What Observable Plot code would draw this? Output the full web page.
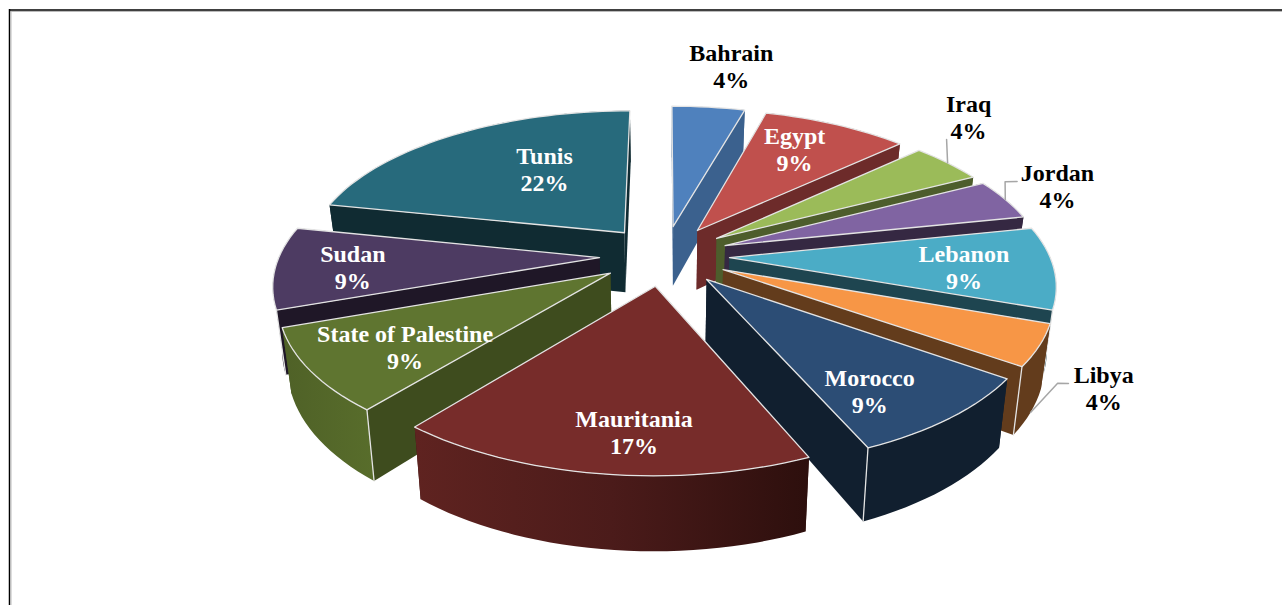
<!DOCTYPE html>
<html><head><meta charset="utf-8">
<script src="https://cdn.jsdelivr.net/npm/d3@7"></script>
<script src="https://cdn.jsdelivr.net/npm/@observablehq/plot@0.6"></script>
<style>html,body{margin:0;padding:0;background:#fff;overflow:hidden}svg{display:block}</style>
</head><body><div id="chart"></div>
<script>
const countries = ["Bahrain","Egypt","Iraq","Jordan","Lebanon","Libya","Morocco","Mauritania","State of Palestine","Sudan","Tunis"];
const counts    = [1,2,1,1,2,1,2,4,2,2,5];
const percents  = ["4%","9%","4%","4%","9%","4%","9%","17%","9%","9%","22%"];
const topColors  = ["#4f81bd","#c0504d","#9bbb59","#8064a2","#4bacc6","#f79646","#2c4d75","#772c2a","#5f7530","#4d3b62","#276a7c"];
const wallColors = ["#3b618e","#6d2b2a","#4d5d2c","#352842","#1e4550","#633c1c","#111f2f","#3a1513","#3e4c1e","#1f1727","#102b32"];
const labelColors = ["#000","#fff","#000","#000","#fff","#000","#fff","#fff","#fff","#fff","#fff"];
// label anchors on the pie's ground plane: distance and bearing from the centre
const labelRadius  = [503,292,490,450,298,466,318,328,300,308,238];
const labelBearing = [9.5,30,45.9,69.6,95.3,123.3,145.1,184.4,232.2,264.8,327];
// leader lines: slice index and elbow/end points in the same ground-plane terms
const leaderSlices = [2,3,5];
const leaderRadius = [[426],[406,418],[428,436]];
const leaderBearing = [[48.5],[65,65.7],[125,124.3]];

// view of the pie
const cx=664, cy=255, squash=.463, persp=.0005, R=320, explode=65, depth=61, taper=.976;
const labelPersp=.00045, labelCx=663;
const rad=Math.PI/180;
const project=(X,Y,z=0,k=persp,c=cx)=>{const s=1/(1+k*Y), t=1-(1-taper)*z/depth; return {x:c+X*s*t, y:cy-squash*Y*s+z*s};};
const polar=(r,a)=>[r*Math.sin(a*rad), r*Math.cos(a*rad)];

const total=d3.sum(counts);
let acc=0;
const slices=countries.map((name,i)=>{
  const a0=acc/total*360; acc+=counts[i]; const a1=acc/total*360; const mid=(a0+a1)/2;
  const [ox,oy]=polar(explode,mid);
  const rim=z=>{const n=Math.max(2,Math.ceil((a1-a0)/2)); return d3.range(n+1).map(j=>{const a=a0+(a1-a0)*j/n; const [X,Y]=polar(R,a); return project(ox+X,oy+Y,z);});};
  return {i,name,a0,a1,mid,ox,oy,rim};
});
const order=[...slices].sort((a,b)=>Math.cos(b.mid*rad)-Math.cos(a.mid*rad));
const closed=p=>[...p,p[0]];
const gradFill={7:"url(#gMau)",8:"url(#gPal)"};
const marks=[];
marks.push(()=>{
  const defs=d3.create("svg:defs");
  const add=(id,stops)=>{const g=defs.append("linearGradient").attr("id",id).attr("x1",0).attr("x2",1).attr("y1",0).attr("y2",0);
    stops.forEach(([o,c])=>g.append("stop").attr("offset",o).attr("stop-color",c));};
  add("gMau",[[0,"#5f2320"],[.5,"#4b1b1a"],[1,"#2d0f0d"]]);
  add("gPal",[[0,"#4f6127"],[1,"#586d2b"]]);
  return defs.node();
});
for(const s of order){
  const c0=s.rim(0), c1=s.rim(depth);
  const apexT=project(s.ox,s.oy,0), apexB=project(s.ox,s.oy,depth);
  const rimWall=closed([...c0,...[...c1].reverse()]);
  const wallStart=closed([apexT,c0[0],c1[0],apexB]);
  const wallEnd=closed([apexT,c0[c0.length-1],c1[c1.length-1],apexB]);
  const startFront=Math.cos((s.a0-90)*rad)<0, endFront=Math.cos((s.a1+90)*rad)<0;
  const fill=wallColors[s.i];
  const poly=(pts,f,opts={})=>marks.push(Plot.line(pts,{x:"x",y:"y",fill:f,stroke:"none",...opts}));
  if(!startFront) poly(wallStart,fill);
  if(!endFront) poly(wallEnd,fill);
  poly(rimWall,gradFill[s.i]||fill);
  if(startFront) poly(wallStart,fill);
  if(endFront) poly(wallEnd,fill);
  const edge={x:"x",y:"y",stroke:"#e4e4e4",strokeWidth:1.3};
  if(startFront && Math.cos(s.a0*rad)<.1) marks.push(Plot.line([c0[0],c1[0]],edge));
  if(endFront && Math.cos(s.a1*rad)<.1) marks.push(Plot.line([c0[c0.length-1],c1[c1.length-1]],edge));
  poly(closed([apexT,...c0]),topColors[s.i],{stroke:"#e4e4e4",strokeWidth:1.3,strokeLinejoin:"round"});
}
// leaders
leaderSlices.forEach((si,k)=>{
  const s=slices[si]; const a=s.mid; const [X,Y]=polar(R,a);
  const front=Math.cos(a*rad)<0;
  const start=project(s.ox+X,s.oy+Y,front?depth:0);
  const pts=[start,...leaderRadius[k].map((r,j)=>{const [x,y]=polar(r,leaderBearing[k][j]);return project(x,y,0,labelPersp,labelCx);})];
  marks.push(Plot.line(pts,{x:"x",y:"y",stroke:"#a6a6a6",strokeWidth:1.5}));
});
const labels=slices.map((s,i)=>{const [X,Y]=polar(labelRadius[i],labelBearing[i]);const p=project(X,Y,0,labelPersp,labelCx);return {...p,text:countries[i]+"\n"+percents[i],color:labelColors[i]};});
marks.push(Plot.text(labels,{x:"x",y:"y",dy:-1.5,text:"text",fill:"color",fontFamily:"Liberation Serif",fontWeight:"bold",fontSize:24,lineHeight:1.125,textAnchor:"middle",lineAnchor:"middle"}));
// page frame
marks.push(Plot.ruleY([9.5],{x1:9,x2:1282,stroke:"#000",strokeWidth:1.5}));
marks.push(Plot.ruleY([11],{x1:10,x2:1282,stroke:"#bbb",strokeWidth:1}));
marks.push(Plot.ruleX([9],{y1:9,y2:605,stroke:"#000",strokeWidth:1.5}));
marks.push(Plot.ruleX([10.5],{y1:11,y2:605,stroke:"#bbb",strokeWidth:1}));

const chart=Plot.plot({width:1282,height:605,margin:0,
  x:{domain:[0,1282],range:[0,1282],axis:null},
  y:{domain:[0,605],range:[0,605],axis:null},
  style:{background:"#fff"},marks});
document.getElementById("chart").append(chart);
</script></body></html>
